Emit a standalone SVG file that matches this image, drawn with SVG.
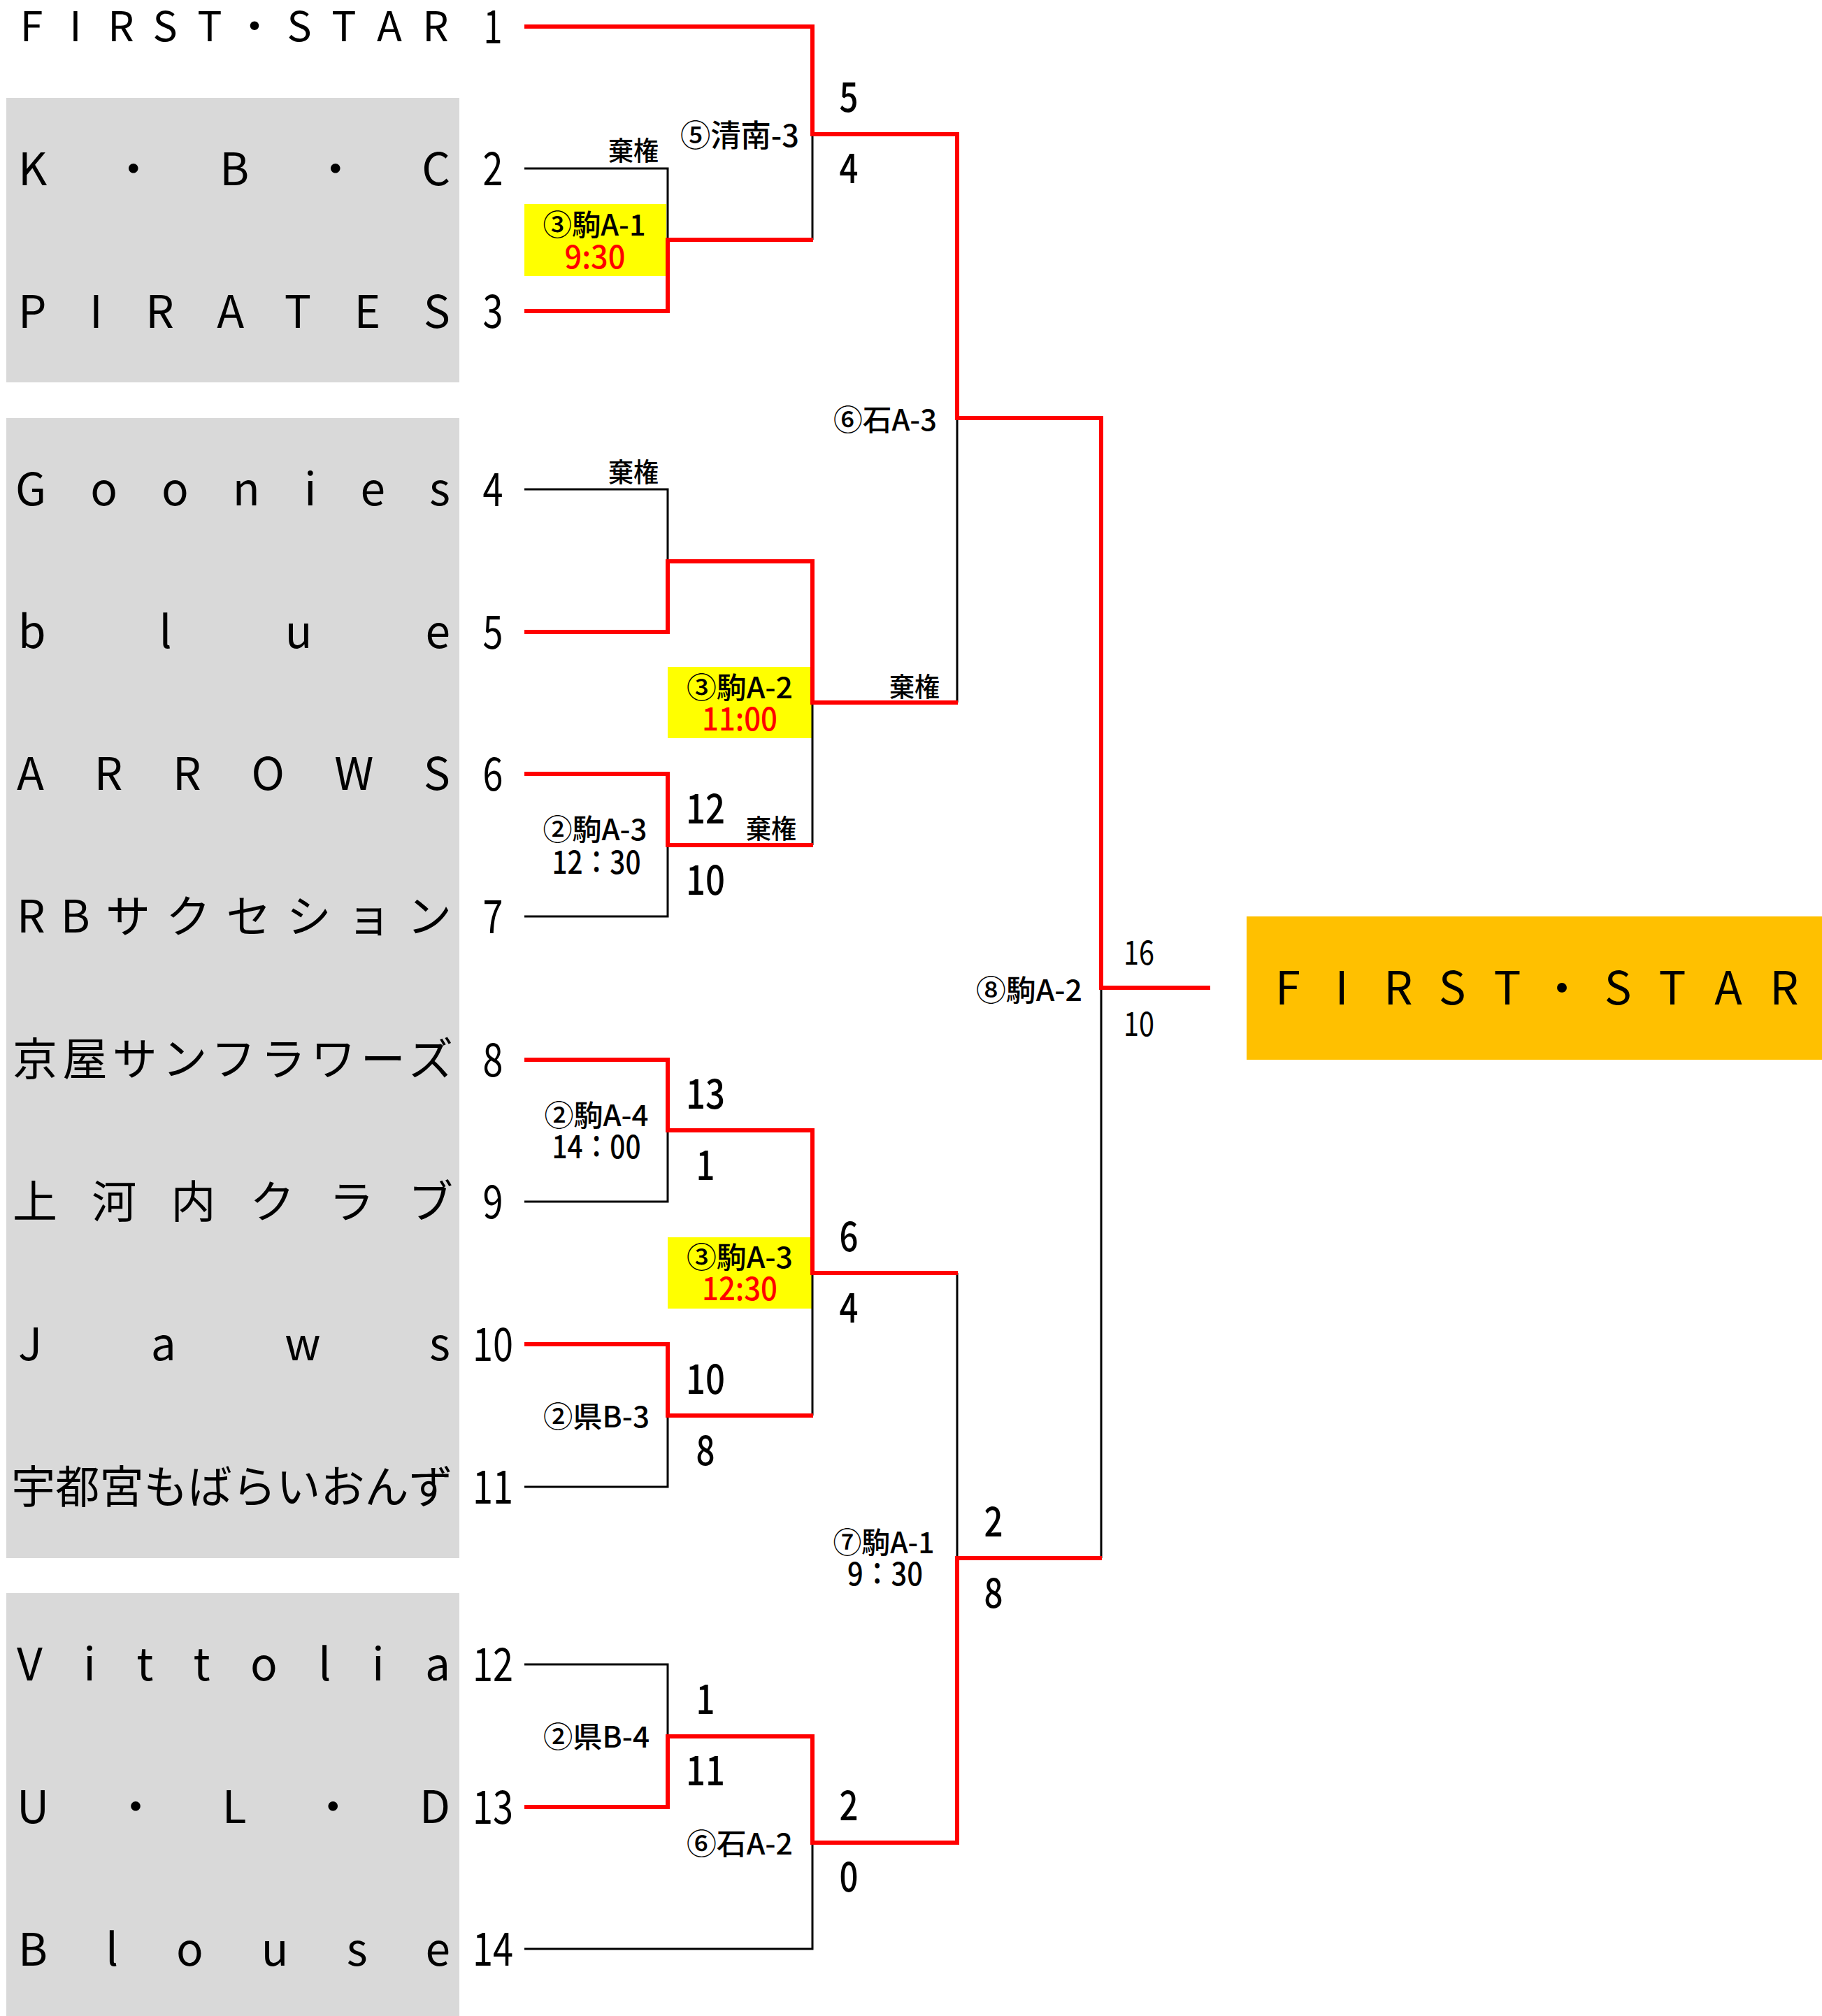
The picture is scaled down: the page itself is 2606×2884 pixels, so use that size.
<svg xmlns="http://www.w3.org/2000/svg" width="2606" height="2884" viewBox="0 0 2606 2884">
<style>
text{font-family:"Noto Sans CJK JP","Noto Sans",sans-serif;fill:#000}
.team{font-size:64px}
.mid{text-anchor:middle}
.seed{font-size:66px;text-anchor:middle}
.score{font-size:58px;text-anchor:middle;font-weight:500}
.fs{font-size:48px;text-anchor:middle}
.lbl{font-size:42px;text-anchor:middle;font-weight:500}
.kk{font-size:38px;text-anchor:middle;font-weight:500}
.red{fill:#FF0000}
.blk{fill:none;stroke:#000;stroke-width:3}
.win{fill:none;stroke:#FF0000;stroke-width:6;stroke-linejoin:miter}
</style>
<rect width="2606" height="2884" fill="#fff"/>
<g id="panels">
<rect x="9" y="140" width="648" height="407" fill="#D9D9D9"/>
<rect x="9" y="598" width="648" height="1631" fill="#D9D9D9"/>
<rect x="9" y="2279" width="648" height="605" fill="#D9D9D9"/>
<rect x="750" y="292" width="203" height="103" fill="#FFFF00"/>
<rect x="955" y="954" width="206" height="102" fill="#FFFF00"/>
<rect x="955" y="1770" width="206" height="102" fill="#FFFF00"/>
</g>
<g id="connectors">
<path class="blk" d="M750 241H955V343"/>
<path class="blk" d="M1162 192V343"/>
<path class="blk" d="M750 700H955V803"/>
<path class="blk" d="M1369 598V1005"/>
<path class="blk" d="M1162 1005V1209"/>
<path class="blk" d="M750 1311H955V1209"/>
<path class="blk" d="M750 1719H955V1617"/>
<path class="blk" d="M750 2127H955V2025"/>
<path class="blk" d="M1162 1821V2025"/>
<path class="blk" d="M1369 1821V2229"/>
<path class="blk" d="M1575 1413V2229"/>
<path class="blk" d="M750 2381H955V2484"/>
<path class="blk" d="M750 2788H1162V2636"/>
<path class="win" d="M750 38H1162V192H1369V598H1575V1413H1731"/>
<path class="win" d="M750 445H955V343H1163"/>
<path class="win" d="M750 904H955V803H1162V1005H1370"/>
<path class="win" d="M750 1107H955V1209H1163"/>
<path class="win" d="M750 1516H955V1617H1162V1821H1370"/>
<path class="win" d="M750 1923H955V2025H1163"/>
<path class="win" d="M750 2585H955V2484H1162V2636H1369V2229H1576"/>
</g>
<g id="teams">
<g id="team1"><text class="team mid" style="font-size:59px" x="45 108 173 236 300 364 428 492 557 623" y="59">FIRST・STAR</text><text class="seed" x="705" y="62" textLength="27" lengthAdjust="spacingAndGlyphs">1</text></g>
<g id="team2"><text class="team" x="26" y="265" textLength="618" lengthAdjust="spacing">K・B・C</text><text class="seed" x="705" y="265" textLength="29" lengthAdjust="spacingAndGlyphs">2</text></g>
<g id="team3"><text class="team" x="26" y="469" textLength="618" lengthAdjust="spacing">PIRATES</text><text class="seed" x="705" y="469" textLength="29" lengthAdjust="spacingAndGlyphs">3</text></g>
<g id="team4"><text class="team" x="22" y="723" textLength="622" lengthAdjust="spacing">Goonies</text><text class="seed" x="705" y="724" textLength="29" lengthAdjust="spacingAndGlyphs">4</text></g>
<g id="team5"><text class="team" x="26" y="927" textLength="618" lengthAdjust="spacing">blue</text><text class="seed" x="705" y="928" textLength="29" lengthAdjust="spacingAndGlyphs">5</text></g>
<g id="team6"><text class="team" x="24" y="1130" textLength="620" lengthAdjust="spacing">ARROWS</text><text class="seed" x="705" y="1131" textLength="29" lengthAdjust="spacingAndGlyphs">6</text></g>
<g id="team7"><text class="team" x="24" y="1334" textLength="622" lengthAdjust="spacing">RBサクセション</text><text class="seed" x="705" y="1335" textLength="29" lengthAdjust="spacingAndGlyphs">7</text></g>
<g id="team8"><text class="team" x="18" y="1538" textLength="630" lengthAdjust="spacing">京屋サンフラワーズ</text><text class="seed" x="705" y="1540" textLength="29" lengthAdjust="spacingAndGlyphs">8</text></g>
<g id="team9"><text class="team" x="18" y="1742" textLength="630" lengthAdjust="spacing">上河内クラブ</text><text class="seed" x="705" y="1743" textLength="29" lengthAdjust="spacingAndGlyphs">9</text></g>
<g id="team10"><text class="team" x="26" y="1946" textLength="618" lengthAdjust="spacing">Jaws</text><text class="seed" x="705" y="1947" textLength="58" lengthAdjust="spacingAndGlyphs">10</text></g>
<g id="team11"><text class="team" x="16" y="2150" textLength="632" lengthAdjust="spacingAndGlyphs">宇都宮もばらいおんず</text><text class="seed" x="705" y="2151" textLength="58" lengthAdjust="spacingAndGlyphs">11</text></g>
<g id="team12"><text class="team" x="24" y="2404" textLength="620" lengthAdjust="spacing">Vittolia</text><text class="seed" x="705" y="2405" textLength="58" lengthAdjust="spacingAndGlyphs">12</text></g>
<g id="team13"><text class="team" x="24" y="2608" textLength="620" lengthAdjust="spacing">U・L・D</text><text class="seed" x="705" y="2609" textLength="58" lengthAdjust="spacingAndGlyphs">13</text></g>
<g id="team14"><text class="team" x="26" y="2812" textLength="618" lengthAdjust="spacing">Blouse</text><text class="seed" x="705" y="2812" textLength="58" lengthAdjust="spacingAndGlyphs">14</text></g>
</g>
<g id="champion">
<rect x="1783" y="1311" width="823" height="205" fill="#FFC000"/>
<text class="team mid" style="font-size:65px" x="1842 1919 2000 2077 2156 2234 2314 2392 2472 2552" y="1437">FIRST・STAR</text>
</g>
<g id="labels">
<text class="kk" x="906" y="229" textLength="72" lengthAdjust="spacingAndGlyphs">棄権</text>
<text class="kk" x="906" y="689" textLength="72" lengthAdjust="spacingAndGlyphs">棄権</text>
<text class="kk" x="1308" y="996" textLength="72" lengthAdjust="spacingAndGlyphs">棄権</text>
<text class="kk" x="1103" y="1199" textLength="72" lengthAdjust="spacingAndGlyphs">棄権</text>
<text class="lbl" style="font-size:44px" x="1058" y="210" textLength="170" lengthAdjust="spacingAndGlyphs">⑤清南-3</text>
<text class="lbl" x="850" y="337" textLength="147" lengthAdjust="spacingAndGlyphs">③駒A-1</text>
<text class="lbl red" style="font-size:46px" x="851" y="384" textLength="87" lengthAdjust="spacingAndGlyphs">9:30</text>
<text class="lbl" x="1266" y="616" textLength="148" lengthAdjust="spacingAndGlyphs">⑥石A-3</text>
<text class="lbl" x="1058" y="999" textLength="152" lengthAdjust="spacingAndGlyphs">③駒A-2</text>
<text class="lbl red" style="font-size:46px" x="1058" y="1045" textLength="108" lengthAdjust="spacingAndGlyphs">11:00</text>
<text class="lbl" x="851" y="1202" textLength="149" lengthAdjust="spacingAndGlyphs">②駒A-3</text>
<text class="lbl" style="font-size:45px" x="853" y="1250" textLength="127" lengthAdjust="spacingAndGlyphs">12：30</text>
<text class="lbl" x="853" y="1611" textLength="149" lengthAdjust="spacingAndGlyphs">②駒A-4</text>
<text class="lbl" style="font-size:45px" x="853" y="1657" textLength="127" lengthAdjust="spacingAndGlyphs">14：00</text>
<text class="lbl" x="1058" y="1814" textLength="152" lengthAdjust="spacingAndGlyphs">③駒A-3</text>
<text class="lbl red" style="font-size:46px" x="1058" y="1860" textLength="108" lengthAdjust="spacingAndGlyphs">12:30</text>
<text class="lbl" x="853" y="2042" textLength="152" lengthAdjust="spacingAndGlyphs">②県B-3</text>
<text class="lbl" x="1264" y="2222" textLength="145" lengthAdjust="spacingAndGlyphs">⑦駒A-1</text>
<text class="lbl" style="font-size:45px" x="1266" y="2268" textLength="108" lengthAdjust="spacingAndGlyphs">9：30</text>
<text class="lbl" x="853" y="2500" textLength="152" lengthAdjust="spacingAndGlyphs">②県B-4</text>
<text class="lbl" x="1058" y="2653" textLength="152" lengthAdjust="spacingAndGlyphs">⑥石A-2</text>
<text class="lbl" x="1472" y="1432" textLength="152" lengthAdjust="spacingAndGlyphs">⑧駒A-2</text>
</g>
<g id="scores">
<text class="score" x="1214" y="160" textLength="27" lengthAdjust="spacingAndGlyphs">5</text>
<text class="score" x="1214" y="262" textLength="27" lengthAdjust="spacingAndGlyphs">4</text>
<text class="score" x="1009" y="1178" textLength="56" lengthAdjust="spacingAndGlyphs">12</text>
<text class="score" x="1009" y="1280" textLength="56" lengthAdjust="spacingAndGlyphs">10</text>
<text class="score" x="1009" y="1586" textLength="56" lengthAdjust="spacingAndGlyphs">13</text>
<text class="score" x="1009" y="1688" textLength="27" lengthAdjust="spacingAndGlyphs">1</text>
<text class="score" x="1214" y="1790" textLength="27" lengthAdjust="spacingAndGlyphs">6</text>
<text class="score" x="1214" y="1892" textLength="27" lengthAdjust="spacingAndGlyphs">4</text>
<text class="score" x="1009" y="1994" textLength="56" lengthAdjust="spacingAndGlyphs">10</text>
<text class="score" x="1009" y="2096" textLength="27" lengthAdjust="spacingAndGlyphs">8</text>
<text class="score" x="1421" y="2198" textLength="27" lengthAdjust="spacingAndGlyphs">2</text>
<text class="score" x="1421" y="2300" textLength="27" lengthAdjust="spacingAndGlyphs">8</text>
<text class="score" x="1009" y="2452" textLength="27" lengthAdjust="spacingAndGlyphs">1</text>
<text class="score" x="1009" y="2554" textLength="56" lengthAdjust="spacingAndGlyphs">11</text>
<text class="score" x="1214" y="2604" textLength="27" lengthAdjust="spacingAndGlyphs">2</text>
<text class="score" x="1214" y="2706" textLength="27" lengthAdjust="spacingAndGlyphs">0</text>
<text class="fs" x="1629" y="1380" textLength="44" lengthAdjust="spacingAndGlyphs">16</text>
<text class="fs" x="1629" y="1482" textLength="44" lengthAdjust="spacingAndGlyphs">10</text>
</g>
</svg>
